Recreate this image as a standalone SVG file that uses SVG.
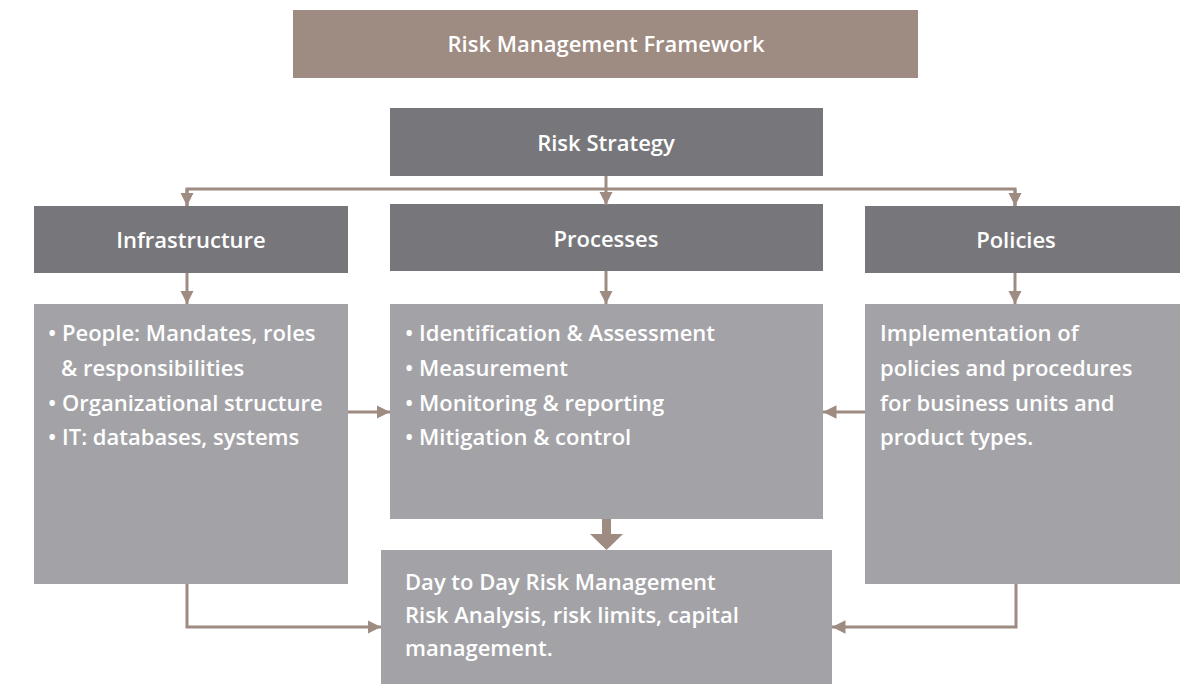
<svg xmlns="http://www.w3.org/2000/svg" width="1192" height="684" viewBox="0 0 1192 684">
  <style>
    .title { fill: #9e8b82; }
    .head { fill: #77777b; }
    .body { fill: #a3a3a7; }
    text { font-family: "Open Sans", "Noto Sans", sans-serif; font-weight: 600; fill: #ffffff; }
    .ht { font-size: 22px; text-anchor: middle; }
    .bt { font-size: 22px; }
    .conn { fill: none; stroke: #9e8b82; stroke-width: 3; }
  </style>
  <defs>
    <marker id="arr" viewBox="0 0 10 10" refX="10" refY="5" markerWidth="4.5" markerHeight="4.5" orient="auto" markerUnits="strokeWidth">
      <path d="M0,0 L10,5 L0,10 z" fill="#9e8b82"/>
    </marker>
  </defs>

  <g id="framework">
    <rect class="title" x="293" y="10" width="625" height="68"/>
    <text class="ht" x="606" y="52">Risk Management Framework</text>
  </g>

  <g id="strategy">
    <rect class="head" x="390" y="108" width="433" height="68"/>
    <text class="ht" x="606" y="151">Risk Strategy</text>
  </g>

  <g id="infrastructure">
    <rect class="head" x="34" y="206" width="314" height="67"/>
    <text class="ht" x="191" y="248">Infrastructure</text>
  </g>

  <g id="processes">
    <rect class="head" x="390" y="204" width="433" height="67"/>
    <text class="ht" x="606" y="247">Processes</text>
  </g>

  <g id="policies">
    <rect class="head" x="865" y="206" width="315" height="67"/>
    <text class="ht" x="1016" y="248">Policies</text>
  </g>

  <g id="infrastructure-detail">
    <rect class="body" x="34" y="304" width="314" height="280"/>
    <text class="bt" x="48" y="341">• People: Mandates, roles</text>
    <text class="bt" x="61" y="376">&amp; responsibilities</text>
    <text class="bt" x="48" y="411">• Organizational structure</text>
    <text class="bt" x="48" y="445">• IT: databases, systems</text>
  </g>

  <g id="processes-detail">
    <rect class="body" x="390" y="304" width="433" height="215"/>
    <text class="bt" x="405" y="341">• Identification &amp; Assessment</text>
    <text class="bt" x="405" y="376">• Measurement</text>
    <text class="bt" x="405" y="411">• Monitoring &amp; reporting</text>
    <text class="bt" x="405" y="445">• Mitigation &amp; control</text>
  </g>

  <g id="policies-detail">
    <rect class="body" x="865" y="304" width="315" height="280"/>
    <text class="bt" x="880" y="341">Implementation of</text>
    <text class="bt" x="880" y="376">policies and procedures</text>
    <text class="bt" x="880" y="411">for business units and</text>
    <text class="bt" x="880" y="445">product types.</text>
  </g>

  <g id="day-to-day">
    <rect class="body" x="381" y="550" width="451" height="134"/>
    <text class="bt" x="405" y="590">Day to Day Risk Management</text>
    <text class="bt" x="405" y="623">Risk Analysis, risk limits, capital</text>
    <text class="bt" x="405" y="656">management.</text>
  </g>

  <g id="connectors">
    <!-- strategy fan-out -->
    <path class="conn" d="M606,176 V205" marker-end="url(#arr)"/>
    <path class="conn" d="M187,206 V189 H1015 V206" />
    <path class="conn" d="M187,189 V206" marker-end="url(#arr)"/>
    <path class="conn" d="M1015,189 V206" marker-end="url(#arr)"/>
    <!-- headers to details -->
    <path class="conn" d="M187,273 V304" marker-end="url(#arr)"/>
    <path class="conn" d="M606,271 V304" marker-end="url(#arr)"/>
    <path class="conn" d="M1015,273 V304" marker-end="url(#arr)"/>
    <!-- side feeds into processes -->
    <path class="conn" d="M348,412 H390" marker-end="url(#arr)"/>
    <path class="conn" d="M865,412 H823" marker-end="url(#arr)"/>
    <!-- processes to day-to-day -->
    <rect x="602" y="519" width="9" height="16" fill="#9e8b82"/>
    <path d="M590,534 L623,534 L606.5,550 z" fill="#9e8b82"/>
    <!-- bottom feeds into day-to-day -->
    <path class="conn" d="M187,584 V627 H381" marker-end="url(#arr)"/>
    <path class="conn" d="M1016,584 V627 H832" marker-end="url(#arr)"/>
  </g>
</svg>
